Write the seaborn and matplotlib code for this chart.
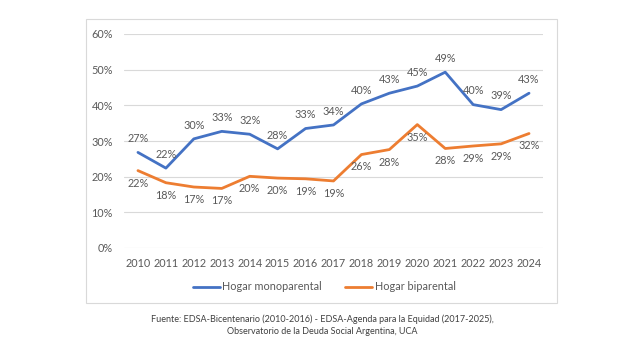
import pandas as pd
import numpy as np
import matplotlib.pyplot as plt
import seaborn as sns
from matplotlib.patches import Rectangle
from matplotlib.lines import Line2D

years = [2010, 2011, 2012, 2013, 2014, 2015, 2016, 2017, 2018, 2019, 2020, 2021, 2022, 2023, 2024]
mono = [26.8, 22.4, 30.6, 32.7, 31.9, 27.8, 33.5, 34.5, 40.4, 43.4, 45.4, 49.3, 40.2, 38.8, 43.4]
bi = [21.7, 18.3, 17.1, 16.7, 20.1, 19.6, 19.4, 18.8, 26.2, 27.6, 34.6, 27.9, 28.6, 29.2, 32.1]
mono_labels = ['27%', '22%', '30%', '33%', '32%', '28%', '33%', '34%', '40%', '43%', '45%', '49%', '40%', '39%', '43%']
bi_labels = ['22%', '18%', '17%', '17%', '20%', '20%', '19%', '19%', '26%', '28%', '35%', '28%', '29%', '29%', '32%']
y_ticks = [0, 10, 20, 30, 40, 50, 60]

blue = '#4472C4'
orange = '#ED7D31'
gray = '#595959'

sns.set_theme(style="white")
plt.rcParams['font.family'] = ['Lato', 'DejaVu Sans']

df = pd.DataFrame({
    'idx': list(range(len(years))) * 2,
    'valor': mono + bi,
    'serie': ['Hogar monoparental'] * len(years) + ['Hogar biparental'] * len(years),
})

W, H = 642, 361
fig = plt.figure(figsize=(W / 100, H / 100), dpi=100)
ax = fig.add_axes([124 / W, (H - 248) / H, (543 - 124) / W, (248 - 34) / H])

# outer chart frame
fig.patches.append(Rectangle((86 / W, (H - 303) / H), (557 - 86) / W, (303 - 19) / H,
                             transform=fig.transFigure, fill=False, edgecolor='#d9d9d9', linewidth=0.8))

sns.lineplot(data=df, x='idx', y='valor', hue='serie', palette=[blue, orange],
             linewidth=2, ax=ax, legend=False)

for i, (v, t) in enumerate(zip(mono, mono_labels)):
    ax.annotate(t, (i, v), xytext=(0, 6), textcoords='offset points', ha='center', va='bottom',
                fontsize=7.8, color=gray)
for i, (v, t) in enumerate(zip(bi, bi_labels)):
    ax.annotate(t, (i, v), xytext=(0, -5), textcoords='offset points', ha='center', va='top',
                fontsize=7.8, color=gray)

ax.set_xlim(-0.5, len(years) - 0.5)
ax.set_ylim(0, 60)
ax.set_yticks(y_ticks)
ax.set_yticklabels([f'{t}%' for t in y_ticks])
ax.set_xticks(range(len(years)))
ax.set_xticklabels([str(y) for y in years])
ax.tick_params(axis='both', length=0, labelsize=7.8, labelcolor=gray)
ax.tick_params(axis='y', pad=8)
ax.tick_params(axis='x', pad=7)
ax.grid(axis='y', color='#d9d9d9', linewidth=0.8)
ax.set_axisbelow(True)
for s in ax.spines.values():
    s.set_visible(False)
ax.set_xlabel('')
ax.set_ylabel('')

# legend
handles = [Line2D([], [], color=blue, linewidth=2), Line2D([], [], color=orange, linewidth=2)]
fig.legend(handles, ['Hogar monoparental', 'Hogar biparental'], loc='center',
           bbox_to_anchor=(324 / W, (H - 287) / H), ncol=2, frameon=False, fontsize=7.8,
           labelcolor=gray, handlelength=2.5, handletextpad=0.2, columnspacing=2.2)

fig.text(322 / W, (H - 325) / H,
         'Fuente: EDSA-Bicentenario (2010-2016) - EDSA-Agenda para la Equidad (2017-2025),\n'
         'Observatorio de la Deuda Social Argentina, UCA',
         ha='center', va='center', fontsize=6.5, color='#404040', linespacing=1.5)

fig.savefig('out.png', dpi=100)
